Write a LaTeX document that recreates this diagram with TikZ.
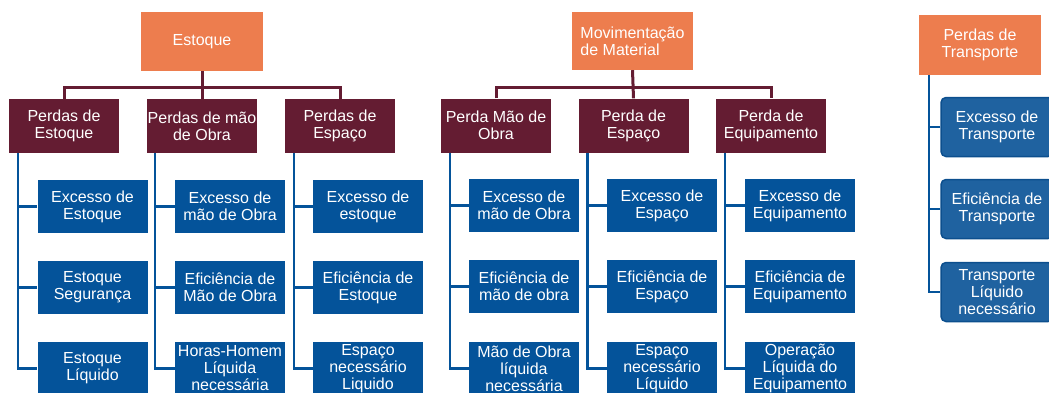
\documentclass[tikz,border=0pt]{standalone}
\usepackage{fontspec}
\setmainfont{Liberation Sans}
\definecolor{orng}{HTML}{ED7D4E}
\definecolor{marn}{HTML}{641C32}
\definecolor{blu}{HTML}{04539A}
\definecolor{blut}{HTML}{1F62A0}
\definecolor{blub}{HTML}{0C4F8E}
\tikzset{
  txt/.style={text=white, align=center, inner sep=0pt, font=\fontsize{16}{17}\selectfont},
  topbox/.style={txt, fill=orng, minimum width=122pt, minimum height=59pt},
  midbox/.style={txt, fill=marn, minimum width=110pt, minimum height=54pt},
  leafbox/.style={txt, fill=blu, minimum width=110pt, minimum height=53pt},
  roundbox/.style={txt, fill=blut, draw=blub, line width=1.5pt, rounded corners=5pt, minimum width=112pt, minimum height=59pt},
  mline/.style={draw=marn, line width=3pt},
  bline/.style={draw=blu, line width=2.6pt}
}
\begin{document}
\begin{tikzpicture}[x=1pt,y=-1pt]
\useasboundingbox (0,0) rectangle (1049,392);
\clip (0,0) rectangle (1049,392);
% ---- Group 1: Estoque
\node[topbox] (e) at (202,41.5) {Estoque};
\node[midbox] (pe) at (64,126) {Perdas de\\Estoque};
\node[midbox] (pm) at (202,126) {Perdas de mão\\de Obra};
\node[midbox] (ps) at (340,126) {Perdas de\\Espaço};
\coordinate (e1) at (64,87);
\coordinate (e3) at (340,87);
\draw[mline] (e.south) -- (pm.north);
\draw[mline] (pe.north) -- (e1) -- (e3) -- (ps.north);

\node[leafbox] (a1) at (92.5,206.5) {Excesso de\\Estoque};
\node[leafbox] (a2) at (92.5,287.5) {Estoque\\Segurança};
\node[leafbox] (a3) at (92.5,368.5) {Estoque\\Líquido};
\node[leafbox] (b1) at (230,206.5) {Excesso de\\mão de Obra};
\node[leafbox] (b2) at (230,287.5) {Eficiência de\\Mão de Obra};
\node[leafbox] (b3) at (230,368.5) {Horas-Homem\\Líquida\\necessária};
\node[leafbox] (c1) at (368,206.5) {Excesso de\\estoque};
\node[leafbox] (c2) at (368,287.5) {Eficiência de\\Estoque};
\node[leafbox] (c3) at (368,368.5) {Espaço\\necessário\\Liquido};

\draw[bline] ([xshift=9pt]pe.south west) |- (a3.west);
\draw[bline] (a1.west) -- ++(-20,0);
\draw[bline] (a2.west) -- ++(-20,0);
\draw[bline] ([xshift=8pt]pm.south west) |- (b3.west);
\draw[bline] (b1.west) -- ++(-20,0);
\draw[bline] (b2.west) -- ++(-20,0);
\draw[bline] ([xshift=9pt]ps.south west) |- (c3.west);
\draw[bline] (c1.west) -- ++(-19,0);
\draw[bline] (c2.west) -- ++(-19,0);

% ---- Group 2: Movimentação de Material
\node[topbox, minimum width=121pt, minimum height=58pt, align=left] (m) at (632.5,41) {Movimentação\\de Material};
\node[midbox] (qm) at (496,125.5) {Perda Mão de\\Obra};
\node[midbox] (qs) at (633.5,125.5) {Perda de\\Espaço};
\node[midbox] (qe) at (771,125.5) {Perda de\\Equipamento};
\coordinate (m1) at (496,87);
\coordinate (m3) at (771,87);
\draw[mline] (m.south) -- (qs.north);
\draw[mline] (qm.north) -- (m1) -- (m3) -- (qe.north);

\node[leafbox] (d1) at (524,205.5) {Excesso de\\mão de Obra};
\node[leafbox] (d2) at (524,286.5) {Eficiência de\\mão de obra};
\node[leafbox] (d3) at (524,368.5) {Mão de Obra\\líquida\\necessária};
\node[leafbox] (f1) at (662,205.5) {Excesso de\\Espaço};
\node[leafbox] (f2) at (662,286.5) {Eficiência de\\Espaço};
\node[leafbox] (f3) at (662,368.5) {Espaço\\necessário\\Líquido};
\node[leafbox] (g1) at (800,205.5) {Excesso de\\Equipamento};
\node[leafbox] (g2) at (800,286.5) {Eficiência de\\Equipamento};
\node[leafbox] (g3) at (800,368.5) {Operação\\Líquida do\\Equipamento};

\draw[bline] ([xshift=9pt]qm.south west) |- (d3.west);
\draw[bline] (d1.west) -- ++(-19,0);
\draw[bline] (d2.west) -- ++(-19,0);
\draw[bline] ([xshift=9pt]qs.south west) |- (f3.west);
\draw[bline] (f1.west) -- ++(-19,0);
\draw[bline] (f2.west) -- ++(-19,0);
\draw[bline] ([xshift=9pt]qe.south west) |- (g3.west);
\draw[bline] (g1.west) -- ++(-20,0);
\draw[bline] (g2.west) -- ++(-20,0);

% ---- Group 3: Perdas de Transporte
\node[topbox, minimum height=60pt] (t) at (980,45) {Perdas de\\Transporte};
\node[roundbox] (t1) at (997,127) {Excesso de\\Transporte};
\node[roundbox] (t2) at (997,209) {Eficiência de\\Transporte};
\node[roundbox] (t3) at (997,292) {Transporte\\Líquido\\necessário};
\draw[bline] ([xshift=10pt]t.south west) |- (t3.west);
\draw[bline] (t1.west) -- ++(-12,0);
\draw[bline] (t2.west) -- ++(-12,0);
\end{tikzpicture}
\end{document}
